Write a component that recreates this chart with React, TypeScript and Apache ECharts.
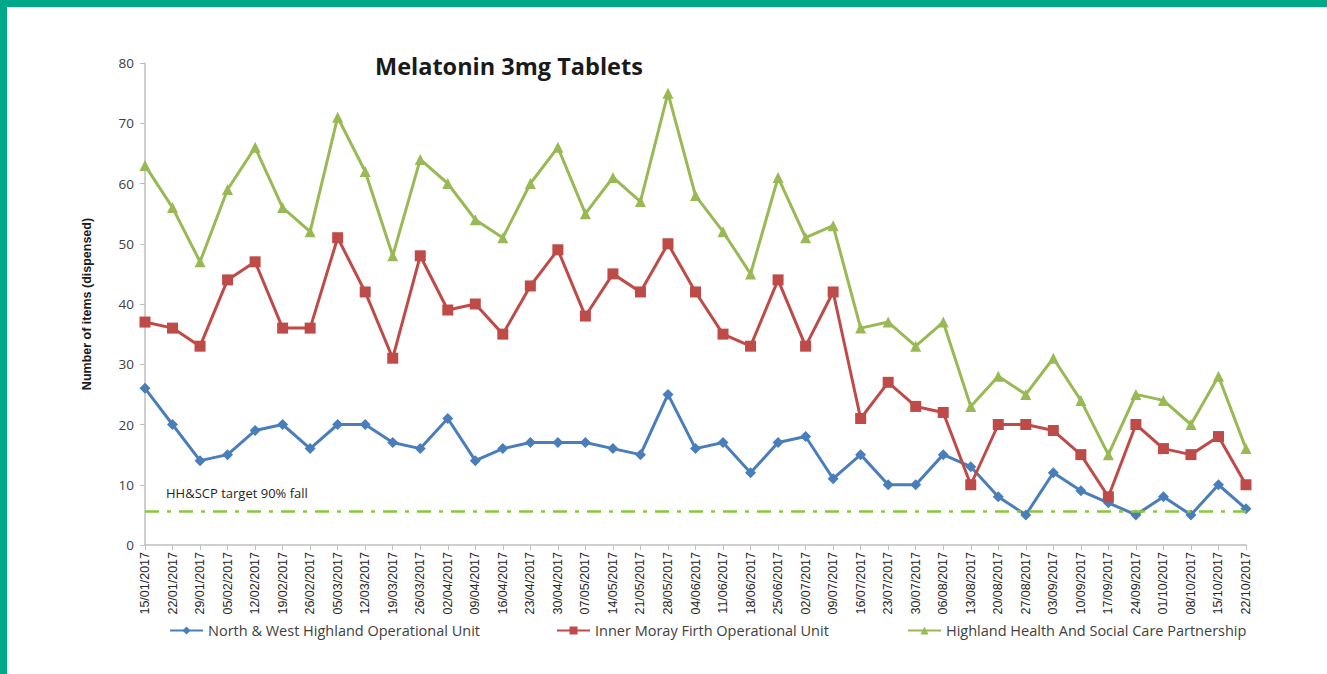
import React, { useEffect, useRef } from "react";
import * as echarts from "echarts";

const categories = [
  "15/01/2017","22/01/2017","29/01/2017","05/02/2017","12/02/2017","19/02/2017","26/02/2017",
  "05/03/2017","12/03/2017","19/03/2017","26/03/2017","02/04/2017","09/04/2017","16/04/2017",
  "23/04/2017","30/04/2017","07/05/2017","14/05/2017","21/05/2017","28/05/2017","04/06/2017",
  "11/06/2017","18/06/2017","25/06/2017","02/07/2017","09/07/2017","16/07/2017","23/07/2017",
  "30/07/2017","06/08/2017","13/08/2017","20/08/2017","27/08/2017","03/09/2017","10/09/2017",
  "17/09/2017","24/09/2017","01/10/2017","08/10/2017","15/10/2017","22/10/2017",
];

const northWest = [26,20,14,15,19,20,16,20,20,17,16,21,14,16,17,17,17,16,15,25,16,17,12,17,18,11,15,10,10,15,13,8,5,12,9,7,5,8,5,10,6];
const innerMoray = [37,36,33,44,47,36,36,51,42,31,48,39,40,35,43,49,38,45,42,50,42,35,33,44,33,42,21,27,23,22,10,20,20,19,15,8,20,16,15,18,10];
const highland = [63,56,47,59,66,56,52,71,62,48,64,60,54,51,60,66,55,61,57,75,58,52,45,61,51,53,36,37,33,37,23,28,25,31,24,15,25,24,20,28,16];

const seriesNames = [
  "North & West Highland Operational Unit",
  "Inner Moray Firth Operational Unit",
  "Highland Health And Social Care Partnership",
];
const target = 5.6;
const targetLabel = "HH&SCP target 90% fall";
const yTicks = [0, 10, 20, 30, 40, 50, 60, 70, 80];

export default function App() {
  const ref = useRef<HTMLDivElement>(null);
  useEffect(() => {
    if (!ref.current) return;
    const chart = echarts.init(ref.current, undefined, { renderer: "svg" });
    const font = "'Open Sans', 'Liberation Sans', sans-serif";
    const narrow = "'Liberation Sans Narrow', 'Liberation Sans', Arial, sans-serif";
    const mk = (name: string, data: number[], color: string, symbol: string, size: number) => ({
      name,
      type: "line",
      data,
      color,
      symbol,
      symbolSize: size,
      showSymbol: true,
      lineStyle: { width: 3, color },
      itemStyle: { color },
      z: 3,
    });
    const legendBase = {
      top: 618,
      itemWidth: 33,
      itemHeight: 10,
      itemGap: 10,
      textStyle: { fontFamily: font, fontSize: 14.5, color: "#404040" },
    };
    chart.setOption({
      animation: false,
      backgroundColor: "#ffffff",
      title: {
        text: "Melatonin 3mg Tablets",
        left: 370,
        top: 49,
        textStyle: { fontFamily: font, fontSize: 23.5, fontWeight: "bold", color: "#1a1a1a" },
      },
      legend: [
        { ...legendBase, left: 164, data: [seriesNames[0]] },
        { ...legendBase, left: 551, data: [seriesNames[1]] },
        { ...legendBase, left: 902, data: [seriesNames[2]] },
      ],
      grid: { left: 145, right: 81, top: 63, bottom: 129, containLabel: false },
      xAxis: {
        type: "category",
        data: categories,
        boundaryGap: false,
        axisLine: { lineStyle: { color: "#bfbfbf", width: 1.5 } },
        axisTick: { show: true, alignWithLabel: true, length: 5, lineStyle: { color: "#bfbfbf" } },
        axisLabel: {
          rotate: 90,
          interval: 0,
          fontFamily: narrow,
          fontSize: 12.5,
          color: "#262626",
          margin: 7,
        },
      },
      yAxis: {
        type: "value",
        min: yTicks[0],
        max: yTicks[yTicks.length - 1],
        interval: 10,
        name: "Number of items (dispensed)",
        nameLocation: "middle",
        nameGap: 52,
        nameTextStyle: { fontFamily: narrow, fontSize: 12.5, fontWeight: "bold", color: "#1a1a1a" },
        axisLine: { show: true, lineStyle: { color: "#bfbfbf", width: 1.5 } },
        axisTick: { show: true, length: 5, lineStyle: { color: "#bfbfbf" } },
        splitLine: { show: false },
        axisLabel: { fontFamily: font, fontSize: 13.5, color: "#404040", margin: 11 },
      },
      graphic: [
        { type: "rect", left: 0, top: 0, shape: { width: 1327, height: 7 }, style: { fill: "#00a88a" } },
        { type: "rect", left: 0, top: 0, shape: { width: 7, height: 674 }, style: { fill: "#00a88a" } },
        {
          type: "text",
          left: 166,
          top: 486,
          style: { text: targetLabel, fontFamily: font, fontSize: 13, fill: "#262626" },
        },
      ],
      series: [
        {
          ...mk(seriesNames[0], northWest, "#4a7ebb", "diamond", 11),
          markLine: {
            silent: true,
            symbol: "none",
            label: { show: false },
            lineStyle: { color: "#8cc63f", width: 2.5, type: [14, 8, 4, 8] },
            data: [{ yAxis: target }],
          },
        },
        mk(seriesNames[1], innerMoray, "#be4b48", "rect", 11),
        mk(seriesNames[2], highland, "#98b954", "triangle", 11),
      ],
    });
    return () => chart.dispose();
  }, []);
  return <div ref={ref} style={{ width: 1327, height: 674, position: "absolute", left: 0, top: 0 }} />;
}
